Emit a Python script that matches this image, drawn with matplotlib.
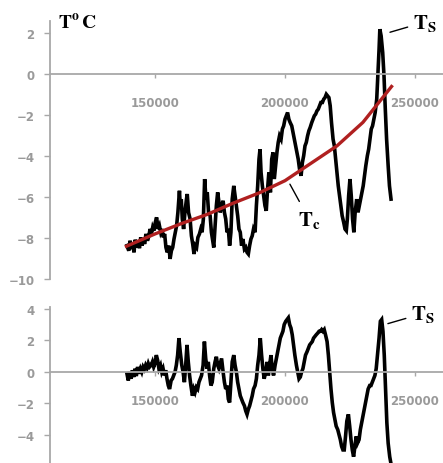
import matplotlib.pyplot as plt

plt.rcParams['mathtext.fontset'] = 'stix'

# Ts (surface temperature), upper panel
ts_upper = [
    (139200, -8.37), (139900, -8.62), (140400, -8.13), (140900, -8.54), (141400, -8.21),
    (141900, -8.70), (142400, -8.08), (142900, -8.46), (143500, -8.13), (144000, -8.50),
    (144500, -7.97), (145000, -8.37), (145500, -8.05), (146000, -8.29), (146500, -7.80),
    (147100, -8.13), (147600, -7.92), (148100, -7.56), (148600, -7.80), (149100, -7.48),
    (149600, -7.64), (150100, -7.24), (150600, -6.99), (151200, -7.56), (151700, -7.40),
    (152200, -7.72), (152700, -7.56), (153200, -7.97), (153700, -7.80), (154200, -8.46),
    (154700, -8.70), (155300, -8.37), (155800, -9.02), (156300, -8.62), (156800, -8.46),
    (157300, -8.05), (157800, -7.72), (158300, -7.40), (158800, -6.75), (159400, -5.69),
    (159700, -6.42), (160100, -6.10), (160500, -7.07), (161000, -7.56), (161500, -6.75),
    (162100, -6.10), (162400, -5.85), (162900, -6.75), (163500, -7.07), (164000, -7.89),
    (164500, -8.29), (165000, -8.78), (165500, -8.37), (166000, -8.46), (166500, -7.97),
    (167100, -7.80), (167600, -7.56), (168100, -7.72), (168600, -7.07), (169100, -5.12),
    (169600, -6.10), (170100, -5.77), (170600, -6.75), (171200, -6.91), (171700, -7.72),
    (172200, -8.13), (172600, -8.46), (173100, -7.40), (173600, -6.42), (174100, -5.77),
    (174600, -6.26), (175100, -6.75), (175600, -6.42), (176200, -6.18), (176700, -6.75),
    (177200, -7.07), (177700, -7.72), (178200, -7.56), (178700, -8.37), (179200, -7.72),
    (179700, -6.10), (180300, -5.45), (180800, -5.93), (181300, -6.42), (181800, -6.91),
    (182300, -7.56), (182800, -7.72), (183300, -8.37), (183800, -8.05), (184400, -8.54),
    (184900, -8.46), (185400, -8.70), (185900, -8.78), (186400, -8.37), (186900, -8.05),
    (187400, -7.89), (187900, -7.56), (188500, -7.72), (189000, -6.42), (189500, -5.45),
    (190000, -4.15), (190400, -3.66), (190800, -4.80), (191300, -5.45), (191800, -5.93),
    (192300, -6.42), (192800, -6.67), (193300, -5.61), (193800, -4.80), (194400, -5.77),
    (194900, -4.15), (195400, -3.82), (195900, -5.12), (196400, -4.47), (196900, -3.82),
    (197400, -3.33), (197900, -3.01), (198500, -3.17), (199000, -2.68), (199500, -2.52),
    (200000, -2.20), (200500, -2.03), (201000, -1.87), (201500, -2.20), (202000, -2.36),
    (202600, -2.52), (203100, -2.85), (203600, -3.17), (204100, -3.50), (204600, -3.82),
    (205100, -4.15), (205600, -4.63), (206200, -4.96), (206700, -4.31), (207200, -3.98),
    (207700, -3.50), (208200, -3.33), (208700, -3.01), (209200, -2.76), (209700, -2.60),
    (210300, -2.36), (210800, -2.20), (211300, -2.03), (211800, -1.95), (212300, -1.79),
    (212800, -1.71), (213300, -1.54), (213800, -1.38), (214400, -1.38), (214900, -1.22),
    (215400, -1.14), (215900, -0.98), (216400, -1.06), (216900, -1.14), (217400, -1.54),
    (217900, -2.36), (218500, -3.17), (219000, -3.50), (219500, -4.15), (220000, -4.80),
    (220500, -5.45), (221000, -5.93), (221500, -6.42), (222000, -6.91), (222600, -7.24),
    (223100, -7.56), (223600, -7.64), (224000, -7.07), (224500, -5.93), (225000, -5.12),
    (225500, -5.93), (226000, -7.07), (226500, -7.72), (227000, -6.75), (227600, -6.10),
    (228100, -6.75), (228600, -6.42), (229100, -6.10), (229600, -5.77), (230100, -5.45),
    (230600, -4.96), (231100, -4.47), (231700, -3.98), (232200, -3.66), (232700, -3.17),
    (233200, -2.68), (233700, -2.52), (234200, -2.20), (234700, -1.87), (235300, -1.22),
    (235800, 0.08), (236200, 1.22), (236500, 2.20), (237000, 1.87), (237600, 1.06),
    (238100, -0.08), (238600, -1.71), (239100, -3.17), (239700, -4.47), (240200, -5.45),
    (240800, -6.10),
]

# Tc (smooth trend, red)
tc_years = [139000, 150000, 160000, 170000, 180000, 190000, 200000,
            210000, 220000, 230000, 241000]
tc_temps = [-8.4, -7.8, -7.3, -6.85, -6.3, -5.8, -5.2, -4.35, -3.5, -2.35, -0.6]

# Ts - Tc, lower panel
ts_lower = [
    (139200, -0.13), (139700, -0.56), (140300, -0.02), (140800, -0.45), (141300, 0.09),
    (141800, -0.34), (142300, 0.19), (142800, -0.28), (143300, 0.30), (143800, -0.13),
    (144400, 0.19), (144900, -0.02), (145400, 0.30), (145900, 0.15), (146400, 0.41),
    (146900, 0.24), (147400, 0.52), (147900, 0.30), (148500, 0.41), (149000, 0.62),
    (149500, 0.30), (150000, 0.52), (150500, 1.05), (151000, 0.73), (151500, 0.19),
    (152100, 0.41), (152600, -0.02), (153100, 0.19), (153600, -0.24), (154100, 0.09),
    (154600, -0.45), (155100, -0.88), (155600, -1.10), (156200, -0.56), (156700, -0.45),
    (157200, -0.24), (157700, -0.02), (158200, 0.41), (158700, 1.05), (159200, 2.13),
    (159700, 1.27), (160300, 0.41), (160800, -0.02), (161300, -0.67), (161800, 0.41),
    (162300, 1.70), (162800, 0.62), (163300, -0.24), (163800, -0.88), (164400, -1.53),
    (164900, -1.10), (165400, -1.31), (165900, -0.99), (166400, -1.10), (166900, -0.67),
    (167400, -0.45), (167900, -0.24), (168500, 0.41), (169000, 1.91), (169500, 0.84),
    (170000, 0.19), (170500, 0.62), (171000, -0.24), (171500, -0.88), (172000, -0.67),
    (172600, 0.19), (173100, 0.62), (173600, 0.95), (174100, 0.41), (174600, 0.19),
    (175100, 0.52), (175600, 0.84), (176200, -0.02), (176700, -0.67), (177200, -1.10),
    (177700, -0.88), (178200, -1.74), (178700, -1.96), (179200, -0.67), (179700, 0.62),
    (180300, 1.05), (180800, 0.41), (181300, -0.02), (181800, -0.67), (182300, -1.10),
    (182800, -1.53), (183300, -1.74), (183800, -1.96), (184400, -2.17), (184900, -2.49),
    (185400, -2.71), (185900, -2.39), (186400, -2.17), (186900, -1.85), (187400, -1.53),
    (187900, -1.10), (188500, -0.88), (189000, -0.45), (189500, 0.41), (190000, 1.05),
    (190500, 2.13), (191000, 1.05), (191500, 0.19), (192000, -0.45), (192600, -0.02),
    (193100, 0.62), (193600, -0.24), (194100, 0.41), (194600, 1.05), (195100, 0.19),
    (195600, -0.24), (196200, 0.41), (196700, 0.84), (197200, 1.27), (197700, 1.70),
    (198200, 2.13), (198700, 2.34), (199200, 2.56), (199700, 2.99), (200300, 3.20),
    (200800, 3.31), (201300, 3.42), (201800, 2.99), (202300, 2.77), (202800, 2.34),
    (203300, 1.70), (203800, 1.05), (204400, 0.41), (204900, -0.02), (205400, -0.45),
    (205900, -0.34), (206400, -0.02), (206900, 0.19), (207400, 0.62), (207900, 1.05),
    (208500, 1.27), (209000, 1.48), (209500, 1.70), (210000, 1.81), (210500, 1.91),
    (211000, 2.13), (211500, 2.24), (212000, 2.34), (212600, 2.45), (213100, 2.56),
    (213600, 2.56), (214100, 2.67), (214600, 2.56), (215100, 2.67), (215600, 2.34),
    (216200, 1.91), (216700, 1.05), (217200, -0.02), (217700, -1.10), (218200, -1.96),
    (218700, -2.60), (219200, -3.03), (219700, -3.46), (220300, -3.68), (220800, -4.00),
    (221300, -4.32), (221800, -4.75), (222300, -4.97), (222800, -4.97), (223300, -4.11),
    (223800, -3.14), (224400, -2.71), (224900, -3.46), (225400, -4.32), (225900, -4.97),
    (226400, -5.40), (226900, -4.75), (227400, -4.11), (227900, -4.54), (228500, -4.32),
    (229000, -3.68), (229500, -3.25), (230000, -2.82), (230500, -2.39), (231000, -1.96),
    (231500, -1.53), (232000, -1.10), (232600, -0.88), (233100, -0.88), (233600, -0.67),
    (234100, -0.45), (234600, -0.24), (235100, 0.19), (235600, 1.05), (236200, 2.13),
    (236700, 3.20), (237200, 3.31), (237700, 2.56), (238200, 1.05), (238700, -1.10),
    (239200, -3.25), (239700, -4.54), (240300, -5.40), (241000, -6.04),
]

up_x = [p[0] for p in ts_upper]
up_y = [p[1] for p in ts_upper]
lo_x = [p[0] for p in ts_lower]
lo_y = [p[1] for p in ts_lower]

x_ticks = [150000, 200000, 250000]
x_range = (109600, 260800)

grey = '#a8a8a8'
label_grey = '#9a9a9a'

fig = plt.figure(figsize=(4.43, 4.64), dpi=100)
ax1 = fig.add_axes([0.1129, 0.3966, 0.8871, 0.556])
ax2 = fig.add_axes([0.1129, 0.0, 0.8871, 0.336])


def style(ax, yticks):
    for s in ['top', 'right']:
        ax.spines[s].set_visible(False)
    ax.spines['left'].set_color(grey)
    ax.spines['left'].set_linewidth(1.3)
    ax.spines['bottom'].set_position(('data', 0))
    ax.spines['bottom'].set_color(grey)
    ax.spines['bottom'].set_linewidth(1.3)
    ax.set_xlim(*x_range)
    ax.set_xticks(x_ticks)
    ax.set_xticklabels([str(t) for t in x_ticks])
    ax.set_yticks(yticks)
    ax.tick_params(axis='x', colors=grey, labelcolor=label_grey, length=3,
                   width=1, pad=13, labelsize=8.5)
    ax.tick_params(axis='y', colors=grey, labelcolor=label_grey, length=4,
                   width=1, pad=7, labelsize=8.5)
    for lab in ax.get_xticklabels() + ax.get_yticklabels():
        lab.set_fontweight('bold')
    ax.patch.set_alpha(0)


ax1.plot(up_x, up_y, color='black', lw=2.6, solid_joinstyle='miter')
ax1.plot(tc_years, tc_temps, color='#b02020', lw=2.4)
ax1.set_ylim(-10, 2.6)
style(ax1, [-10, -8, -6, -4, -2, 0, 2])

ax2.plot(lo_x, lo_y, color='black', lw=2.6, solid_joinstyle='miter')
ax2.set_ylim(-5.8, 4.1)
style(ax2, [-4, -2, 0, 2, 4])

# labels
ax1.text(112500, 2.55, r'$\mathbf{T^{o}\,C}$', fontsize=14, va='center', ha='left')
ax1.annotate(r'$\mathbf{T_S}$', xy=(240400, 2.05), xytext=(249300, 2.55),
             fontsize=15, va='center', ha='left', annotation_clip=False,
             arrowprops=dict(arrowstyle='-', color='black', lw=1, shrinkA=2, shrinkB=0))
ax1.annotate(r'$\mathbf{T_c}$', xy=(201900, -5.37), xytext=(205000, -7.1),
             fontsize=15, va='center', ha='left',
             arrowprops=dict(arrowstyle='-', color='black', lw=1, shrinkA=4, shrinkB=0))
ax2.annotate(r'$\mathbf{T_S}$', xy=(239600, 3.05), xytext=(248600, 3.7),
             fontsize=15, va='center', ha='left', annotation_clip=False,
             arrowprops=dict(arrowstyle='-', color='black', lw=1, shrinkA=2, shrinkB=0))

plt.savefig('out.png', dpi=100)
